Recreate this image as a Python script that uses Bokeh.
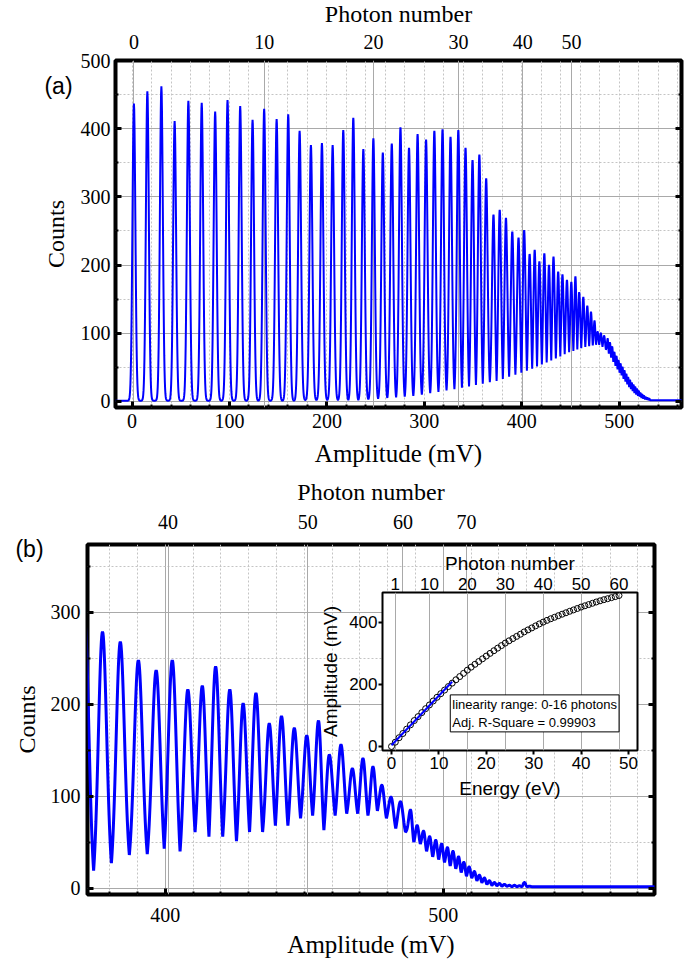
import numpy as np
from bokeh.plotting import figure
from bokeh.models import (LinearAxis, FixedTicker, SingleIntervalTicker, Range1d, Grid,
                          Label, ColumnDataSource, CustomJSTickFormatter)
from bokeh.embed import file_html
from bokeh.resources import INLINE

# ---------------- data ----------------
photon_n = list(range(83))
# amplitude (mV) of the n-photon peak
peak_mv = [1.9, 15.7, 30.1, 43.7, 57.8, 71.5, 85.3, 98.0, 111.0, 123.7,
           135.6, 148.4, 160.3, 172.0, 183.6, 194.9, 205.9, 216.8, 227.1, 237.4,
           247.7, 257.4, 266.6, 275.5, 284.3, 293.1, 301.8, 310.3, 318.7, 326.9,
           334.9, 342.3, 349.5, 356.5, 363.5, 371.0, 377.4, 383.8, 390.3, 396.7,
           402.5, 408.1, 413.3, 418.1, 423.2, 428.0, 432.6, 437.4, 441.8, 446.4,
           450.9, 455.1, 459.0, 463.2, 467.3, 471.1, 474.7, 477.9, 481.2, 484.6,
           488.2, 490.6, 492.9, 495.1, 497.3, 499.4, 501.5, 503.5, 505.5, 507.4,
           509.3, 511.2, 513.0, 514.8, 516.6, 518.4, 520.2, 522.0, 523.8, 525.6,
           527.4, 529.2, 531.0]
# panel (a): peak heights and following valley (counts)
peaks_a = [437, 455, 462, 411, 441, 438, 425, 442, 433, 413,
           429, 414, 421, 397, 376, 379, 376, 398, 416, 370,
           386, 365, 378, 402, 372, 392, 384, 397, 399, 388,
           398, 372, 354, 362, 327, 274, 281, 269, 249, 240,
           251, 216, 222, 205, 217, 200, 212, 190, 186, 178,
           175, 183, 160, 153, 140, 131, 118, 102, 100, 96,
           92, 86, 80, 72, 66, 60, 55, 50, 45, 40,
           35, 31, 27, 24, 21, 18, 15, 12, 10, 8,
           6, 5, 4]
valleys_a = [1, 1, 1, 1, 1, 1, 1, 1, 1, 1,
             1, 1, 1, 2, 2, 2, 2, 2, 2, 3,
             4, 5, 6, 7, 8, 10, 12, 14, 16, 18,
             20, 22, 24, 26, 28, 30, 33, 36, 39, 42,
             45, 48, 51, 54, 57, 60, 63, 66, 69, 72,
             74, 76, 78, 80, 81, 82, 83, 83, 80, 76,
             70, 64, 58, 52, 47, 42, 38, 33, 29, 25,
             21, 18, 15, 12, 10, 8, 7, 5, 4, 3,
             2.5, 2, 1.5]
# panel (b): from photon number 33 on
b_first_n = 33
peaks_b = [300, 295, 290, 279, 268, 248, 237, 248, 216, 220,
           241, 216, 201, 212, 179, 187, 174, 166, 182, 145,
           156, 130, 141, 132, 112, 99, 94, 85, 68, 62,
           56, 52, 48, 44, 40, 34, 28, 23, 18, 14,
           11, 8, 6, 5, 4, 3, 3, 2.5, 6, 2]
valleys_b = [15, 17, 19, 27, 36, 37, 43, 40, 61, 56,
             56, 51, 61, 61, 68, 68, 76, 79, 63, 79,
             81, 81, 79, 84, 76, 65, 61, 50, 48, 40,
             34, 31, 28, 24, 21, 17, 13, 11, 8, 6,
             4, 3, 2.5, 2, 2, 1.5, 1.5, 1.5, 1.5, 1.5]
# photon-number tick positions on the top axes (mV)
top_ticks_a = [0, 10, 20, 30, 40, 50]
top_ticks_a_mv = [1.9, 135.6, 247.8, 335.0, 401.0, 451.0]
top_ticks_b = [40, 50, 60, 70]
top_ticks_b_mv = [401.0, 451.2, 485.5, 508.4]
inset_top_ticks = [1, 10, 20, 30, 40, 50, 60]
inset_max_n = 60
photon_energy_ev = 0.8
fit_max_n = 16
box_text = "linearity range: 0-16 photons\nAdj. R-Square = 0.99903"

SERIF = "Liberation Serif"
SANS = "Liberation Sans"
BLUE = "#0000ff"
GRID_SOLID = "#a9a9a9"
GRID_DOT = "#c4c4c4"


def seg(xv, v, xp, p, sig):
    t = np.linspace(0.0, 1.0, 24)
    x = xv + (xp - xv) * t
    g = np.exp(-(x - xp) ** 2 / (2 * sig ** 2))
    g0 = np.exp(-(xv - xp) ** 2 / (2 * sig ** 2))
    y = v + (p - v) * (g - g0) / (1 - g0)
    return x, y


def build_trace(pos, pk, vl, x_lo, x_hi, floor_left, floor_right):
    pos = np.asarray(pos, float)
    sp = np.diff(pos)
    sp = np.append(sp, sp[-1])
    xs = [np.array([x_lo])]
    ys = [np.array([floor_left])]
    prev_x = pos[0] - sp[0] / 2
    prev_v = floor_left
    for i in range(len(pos)):
        sig = min(1.5, 0.27 * sp[i])
        x1, y1 = seg(prev_x, prev_v, pos[i], pk[i], sig)
        nx = pos[i] + sp[i] / 2
        x2, y2 = seg(nx, vl[i], pos[i], pk[i], sig)
        xs += [x1, x2[::-1][1:]]
        ys += [y1, y2[::-1][1:]]
        prev_x, prev_v = nx, vl[i]
    xs.append(np.array([x_hi]))
    ys.append(np.array([floor_right]))
    return np.concatenate(xs), np.concatenate(ys)


def nearest_label_formatter(positions, labels):
    return CustomJSTickFormatter(
        args=dict(pos=list(positions), lab=[str(l) for l in labels]),
        code="let b=''; let d=1e9; for (let i=0;i<pos.length;i++){const e=Math.abs(pos[i]-tick); if(e<d){d=e;b=lab[i];}} return b;")


def style_axis(ax, font, size, label_size, tick_in=6, minor_in=3, major_w=3, minor_w=2):
    ax.axis_line_color = None
    ax.major_tick_in = tick_in
    ax.major_tick_out = 0
    ax.major_tick_line_width = major_w
    ax.major_tick_line_color = "black"
    ax.minor_tick_in = minor_in
    ax.minor_tick_out = 0
    ax.minor_tick_line_width = minor_w
    ax.minor_tick_line_color = "black"
    ax.major_label_text_font = font
    ax.major_label_text_font_size = size
    ax.major_label_text_color = "black"
    ax.axis_label_text_font = font
    ax.axis_label_text_font_size = label_size
    ax.axis_label_text_font_style = "normal"
    ax.axis_label_text_color = "black"


def absolute(left, top):
    return {"position": "absolute", "left": f"{left}px", "top": f"{top}px"}


def tag_figure(text, left, top):
    f = figure(width=44, height=30, x_range=Range1d(0, 1), y_range=Range1d(0, 1),
               x_axis_location=None, y_axis_location=None, output_backend="svg",
               toolbar_location=None, min_border=0, styles=absolute(left, top))
    f.grid.visible = False
    f.outline_line_color = None
    f.background_fill_color = None
    f.border_fill_color = None
    f.add_layout(Label(x=22, y=15, x_units="screen", y_units="screen", text=text,
                       text_font=SANS, text_font_size="23px", text_align="center",
                       text_baseline="middle", text_color="black"))
    return f


blank = CustomJSTickFormatter(code="return '';")

# ---------------- panel (a) ----------------
pa = figure(frame_width=566, frame_height=347, x_range=Range1d(-17, 564), y_range=Range1d(-9, 500),
            output_backend="svg", toolbar_location=None,
            min_border_left=107, min_border_top=64, min_border_right=10, min_border_bottom=68,
            styles=absolute(8, -4))
pa.outline_line_color = "black"
pa.outline_line_width = 4
pa.background_fill_color = "white"

xa, ya = build_trace(peak_mv, peaks_a, valleys_a, -20, 570, 1.0, 1.5)
pa.line(x="x", y="y", source=ColumnDataSource(dict(x=xa, y=ya)), color=BLUE, line_width=2)

bx = pa.xaxis[0]
bx.ticker = SingleIntervalTicker(interval=100, num_minor_ticks=5)
style_axis(bx, SERIF, "20px", "25px")
bx.axis_label = "Amplitude (mV)"
bx.major_label_standoff = 6
bx.axis_label_standoff = 9

ly = pa.yaxis[0]
ly.ticker = SingleIntervalTicker(interval=100, num_minor_ticks=2)
style_axis(ly, SERIF, "20px", "24px")
ly.axis_label = "Counts"
ly.major_label_standoff = 5
ly.axis_label_standoff = 9

ry = LinearAxis(ticker=SingleIntervalTicker(interval=100, num_minor_ticks=2), formatter=blank)
style_axis(ry, SERIF, "20px", "24px")
pa.add_layout(ry, "right")

tx = LinearAxis(ticker=FixedTicker(ticks=top_ticks_a_mv),
                formatter=nearest_label_formatter(top_ticks_a_mv, top_ticks_a))
style_axis(tx, SERIF, "20px", "24px", tick_in=0, minor_in=0)
tx.axis_label = "Photon number"
tx.major_label_standoff = 12
tx.axis_label_standoff = 5
pa.add_layout(tx, "above")

pa.xgrid[0].grid_line_color = None
pa.xgrid[0].minor_grid_line_color = GRID_DOT
pa.xgrid[0].minor_grid_line_dash = "2 2"
pa.ygrid[0].grid_line_color = GRID_SOLID
pa.ygrid[0].minor_grid_line_color = GRID_DOT
pa.ygrid[0].minor_grid_line_dash = "2 2"
pa.add_layout(Grid(dimension=0, ticker=tx.ticker, grid_line_color=GRID_SOLID))

# ---------------- panel (b) ----------------
pb = figure(frame_width=567, frame_height=350, x_range=Range1d(372, 576), y_range=Range1d(-7, 374),
            output_backend="svg", toolbar_location=None,
            min_border_left=79, min_border_top=68, min_border_right=37, min_border_bottom=58,
            styles=absolute(8, 475))
pb.outline_line_color = "black"
pb.outline_line_width = 4
pb.background_fill_color = "white"

pos_b = peak_mv[b_first_n:]
xb, yb = build_trace(pos_b, peaks_b, valleys_b, 360, 580, 15, 1.5)
pb.line(x="x", y="y", source=ColumnDataSource(dict(x=xb, y=yb)), color=BLUE, line_width=3)

bxb = pb.xaxis[0]
bxb.ticker = SingleIntervalTicker(interval=100, num_minor_ticks=10)
style_axis(bxb, SERIF, "20px", "25px")
bxb.axis_label = "Amplitude (mV)"
bxb.major_label_standoff = 13
bxb.axis_label_standoff = 6

lyb = pb.yaxis[0]
lyb.ticker = SingleIntervalTicker(interval=100, num_minor_ticks=2)
style_axis(lyb, SERIF, "20px", "24px")
lyb.axis_label = "Counts"
lyb.major_label_standoff = 7
lyb.axis_label_standoff = 8

ryb = LinearAxis(ticker=SingleIntervalTicker(interval=100, num_minor_ticks=2), formatter=blank)
style_axis(ryb, SERIF, "20px", "24px")
pb.add_layout(ryb, "right")

txb = LinearAxis(ticker=FixedTicker(ticks=top_ticks_b_mv),
                 formatter=nearest_label_formatter(top_ticks_b_mv, top_ticks_b))
style_axis(txb, SERIF, "20px", "24px", tick_in=0, minor_in=0)
txb.axis_label = "Photon number"
txb.major_label_standoff = 16
txb.axis_label_standoff = 7
pb.add_layout(txb, "above")

pb.xgrid[0].grid_line_color = GRID_SOLID
pb.xgrid[0].minor_grid_line_color = GRID_DOT
pb.xgrid[0].minor_grid_line_dash = "2 2"
pb.ygrid[0].grid_line_color = GRID_SOLID
pb.ygrid[0].minor_grid_line_color = GRID_DOT
pb.ygrid[0].minor_grid_line_dash = "2 2"
pb.add_layout(Grid(dimension=0, ticker=txb.ticker, grid_line_color=GRID_SOLID))

# ---------------- inset ----------------
n_in = list(range(inset_max_n + 1))
energy = [photon_energy_ev * n for n in n_in]
amp = [peak_mv[n] - peak_mv[0] for n in n_in]
coef = np.polyfit(energy[:fit_max_n + 1], amp[:fit_max_n + 1], 1)
fit_x = [0.0, energy[fit_max_n]]
fit_y = [float(np.polyval(coef, v)) for v in fit_x]

pin = figure(frame_width=255, frame_height=158, x_range=Range1d(-1.9, 51.9), y_range=Range1d(-13, 496),
             output_backend="svg", toolbar_location=None,
             min_border_left=72, min_border_top=47, min_border_right=12, min_border_bottom=60,
             styles=absolute(310, 545))
pin.background_fill_color = "white"
pin.border_fill_color = None
pin.outline_line_color = "black"
pin.outline_line_width = 2

pin.scatter(x="e", y="a", source=ColumnDataSource(dict(e=energy, a=amp)), marker="circle", size=6,
            fill_color=None, line_color="black", line_width=1)
pin.line(x=fit_x, y=fit_y, color=BLUE, line_width=2)

ibx = pin.xaxis[0]
ibx.ticker = SingleIntervalTicker(interval=10, num_minor_ticks=2)
style_axis(ibx, SANS, "17px", "19px", tick_in=0, minor_in=0)
ibx.major_tick_out = 4
ibx.major_tick_line_width = 2
ibx.axis_label = "Energy (eV)"
ibx.major_label_standoff = 2
ibx.axis_label_standoff = 6

ily = pin.yaxis[0]
ily.ticker = SingleIntervalTicker(interval=200, num_minor_ticks=2)
style_axis(ily, SANS, "17px", "19px", tick_in=0, minor_in=0)
ily.major_tick_out = 4
ily.major_tick_line_width = 2
ily.axis_label = "Amplitude (mV)"
ily.major_label_standoff = 1
ily.axis_label_standoff = 5

itop_pos = [photon_energy_ev * n for n in inset_top_ticks]
itx = LinearAxis(ticker=FixedTicker(ticks=itop_pos), formatter=nearest_label_formatter(itop_pos, inset_top_ticks))
style_axis(itx, SANS, "17px", "19px", tick_in=0, minor_in=0)
itx.axis_label = "Photon number"
itx.major_label_standoff = 3
itx.axis_label_standoff = 1
pin.add_layout(itx, "above")

pin.xgrid[0].grid_line_color = None
pin.ygrid[0].grid_line_color = None
pin.add_layout(Grid(dimension=0, ticker=itx.ticker, grid_line_color=GRID_SOLID))

# shadow of the text box (text itself not drawn), then the box
pin.add_layout(Label(x=12.4, y=47, text=box_text, text_font=SANS, text_font_size="13px",
                     text_align="left", text_baseline="bottom", text_color=None,
                     x_offset=3, y_offset=-3,
                     background_fill_color="black", border_line_color="black", border_line_width=1,
                     padding=2))
pin.add_layout(Label(x=12.4, y=47, text=box_text, text_font=SANS, text_font_size="13px",
                     text_align="left", text_baseline="bottom", text_color="black",
                     background_fill_color="white", border_line_color="black", border_line_width=1,
                     padding=2))

tag_a = tag_figure("(a)", 36, 70)
tag_b = tag_figure("(b)", 7, 533)

open("out.html", "w").write(file_html([pa, pb, pin, tag_a, tag_b], INLINE))
